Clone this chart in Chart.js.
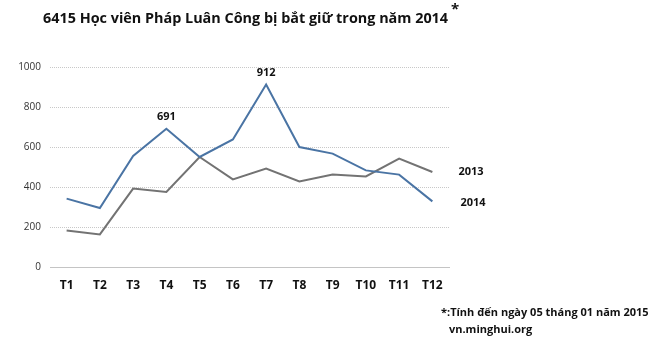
<!DOCTYPE html>
<html lang="vi">
<head>
<meta charset="UTF-8">
<title>6415 Học viên Pháp Luân Công bị bắt giữ trong năm 2014</title>
<style>
  html, body { margin: 0; padding: 0; background: #fff; }
  #wrap { width: 666px; height: 352px; }
</style>
</head>
<body>
<div id="wrap"><canvas id="myChart"></canvas></div>

<script src="https://cdn.jsdelivr.net/npm/chart.js"></script>
<script>
  // data
  const v_months = ["T1", "T2", "T3", "T4", "T5", "T6", "T7", "T8", "T9", "T10", "T11", "T12"];
  const v_2014 = [342, 295, 555, 691, 550, 638, 912, 600, 567, 483, 462, 328];
  const v_2013 = [183, 163, 392, 375, 550, 438, 492, 428, 462, 453, 542, 475];
  const v_yTicks = [0, 200, 400, 600, 800, 1000];
  const v_peaks = [3, 6]; // T4 and T7 get their value written above

  const v_title = "6415 Học viên Pháp Luân Công bị bắt giữ trong năm 2014";
  const v_note1 = "*:Tính đến ngày 05 tháng 01 năm 2015";
  const v_note2 = "vn.minghui.org";

  const BLUE = "#4a74a4";
  const GREY = "#737373";
  const FONT = "'Open Sans', 'Noto Sans', sans-serif";

  // titles, value labels and series names
  const textPlugin = {
    id: "texts",
    afterDatasetsDraw(chart) {
      const c = chart.ctx;
      c.save();
      c.fillStyle = "#111";
      c.textBaseline = "middle";

      c.font = "bold 14.4px " + FONT;
      c.textAlign = "left";
      c.fillText(v_title, 43, 19);
      let w = c.measureText(v_title).width;
      c.font = "bold 15px " + FONT;
      c.fillText("*", 43 + w + 3, 10);

      let m14 = chart.getDatasetMeta(0);
      c.font = "bold 11px " + FONT;
      c.textAlign = "center";
      v_peaks.forEach(i => {
        let p = m14.data[i];
        c.fillText(String(v_2014[i]), p.x, p.y - 12);
      });

      let m13 = chart.getDatasetMeta(1);
      c.textAlign = "left";
      let last = v_months.length - 1;
      c.fillText("2013", m13.data[last].x + 26, m13.data[last].y);
      c.fillText("2014", m14.data[last].x + 28, m14.data[last].y + 1);

      c.font = "bold 11px " + FONT;
      c.fillText(v_note1, 441, 313);
      c.fillText(v_note2, 449, 330);
      c.restore();
    }
  };

  const ctx = document.getElementById("myChart");

  new Chart(ctx, {
    type: "line",
    data: {
      labels: v_months,
      datasets: [
        {
          label: "2014",
          data: v_2014,
          borderColor: BLUE,
          backgroundColor: BLUE,
          borderWidth: 2,
          pointRadius: 0,
          tension: 0
        },
        {
          label: "2013",
          data: v_2013,
          borderColor: GREY,
          backgroundColor: GREY,
          borderWidth: 2,
          pointRadius: 0,
          tension: 0
        }
      ]
    },
    options: {
      responsive: true,
      maintainAspectRatio: false,
      animation: false,
      layout: { padding: { left: 0, right: 217, top: 67, bottom: 55 } },
      plugins: {
        legend: { display: false },
        tooltip: { enabled: false }
      },
      scales: {
        x: {
          offset: true,
          grid: { display: false, drawTicks: false },
          border: { display: true, color: "#c4c4c4", width: 1 },
          ticks: {
            color: "#111",
            padding: 11,
            font: { family: FONT, size: 12, weight: "bold" }
          },
          afterFit(scale) { scale.height = 30; }
        },
        y: {
          min: 0,
          max: 1000,
          afterBuildTicks(scale) { scale.ticks = v_yTicks.map(v => ({ value: v })); },
          grid: { color: "#c8c8c8", drawTicks: false },
          border: { display: false, dash: [1, 1] },
          ticks: {
            color: "#333",
            padding: 9,
            font: { family: FONT, size: 10 },
            callback: v => String(v)
          },
          afterFit(scale) { scale.width = 50; }
        }
      }
    },
    plugins: [textPlugin]
  });
</script>
</body>
</html>
